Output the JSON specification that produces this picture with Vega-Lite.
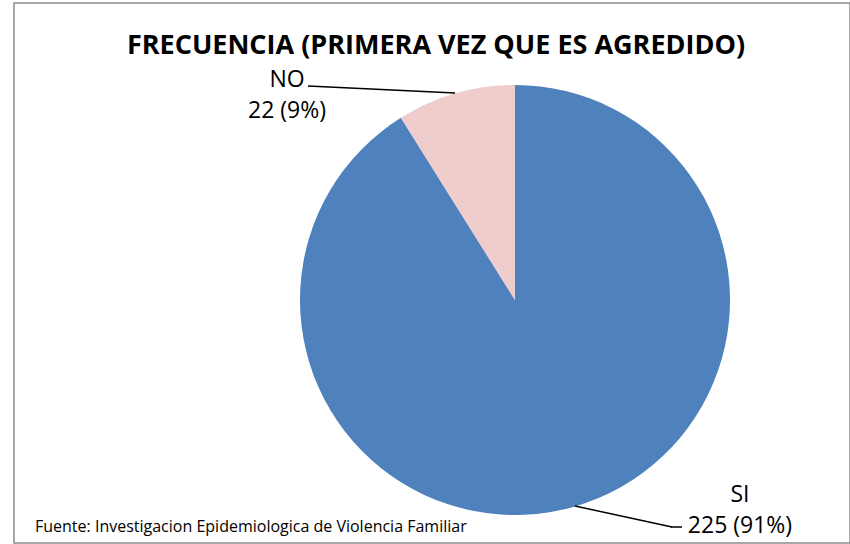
{
  "$schema": "https://vega.github.io/schema/vega-lite/v6.json",
  "width": 836,
  "height": 540,
  "autosize": {"type": "none"},
  "padding": {"left": 14, "top": 3, "right": 0, "bottom": 1},
  "background": "white",
  "config": {
    "view": {"stroke": "#8c8c8c", "strokeWidth": 1.5},
    "font": "Open Sans"
  },
  "data": {
    "values": [
      {"respuesta": "SI", "frecuencia": 225, "porcentaje": 91},
      {"respuesta": "NO", "frecuencia": 22, "porcentaje": 9}
    ]
  },
  "layer": [
    {
      "mark": {"type": "arc", "outerRadius": 215},
      "encoding": {
        "x": {"value": 501},
        "y": {"value": 297},
        "theta": {"field": "frecuencia", "type": "quantitative", "stack": true},
        "color": {
          "field": "respuesta",
          "type": "nominal",
          "scale": {"domain": ["SI", "NO"], "range": ["#4F81BD", "#F0CDCD"]},
          "legend": null
        },
        "order": {"field": "respuesta", "sort": "descending"}
      }
    },
    {
      "transform": [
        {"filter": "datum.respuesta === 'NO'"},
        {"calculate": "[datum.respuesta, datum.frecuencia + ' (' + datum.porcentaje + '%)']", "as": "etiqueta"}
      ],
      "mark": {"type": "text", "font": "Open Sans", "fontSize": 23, "align": "center", "baseline": "alphabetic", "lineHeight": 31, "color": "#000000"},
      "encoding": {
        "text": {"field": "etiqueta"},
        "x": {"value": 273},
        "y": {"value": 84}
      }
    },
    {
      "transform": [
        {"filter": "datum.respuesta === 'SI'"},
        {"calculate": "[datum.respuesta, datum.frecuencia + ' (' + datum.porcentaje + '%)']", "as": "etiqueta"}
      ],
      "mark": {"type": "text", "font": "Open Sans", "fontSize": 23, "align": "center", "baseline": "alphabetic", "lineHeight": 31, "color": "#000000"},
      "encoding": {
        "text": {"field": "etiqueta"},
        "x": {"value": 726},
        "y": {"value": 499}
      }
    },
    {
      "data": {"values": [{}]},
      "mark": {"type": "rule", "color": "#000000", "strokeWidth": 1.5},
      "encoding": {"x": {"value": 294}, "y": {"value": 83}, "x2": {"value": 441}, "y2": {"value": 90}}
    },
    {
      "data": {"values": [{}]},
      "mark": {"type": "rule", "color": "#000000", "strokeWidth": 1.5},
      "encoding": {"x": {"value": 561}, "y": {"value": 503}, "x2": {"value": 658}, "y2": {"value": 524}}
    },
    {
      "data": {"values": [{}]},
      "mark": {"type": "rule", "color": "#000000", "strokeWidth": 1.5},
      "encoding": {"x": {"value": 657}, "y": {"value": 524}, "x2": {"value": 668}, "y2": {"value": 524}}
    },
    {
      "data": {"values": [{"texto": "FRECUENCIA (PRIMERA VEZ QUE ES AGREDIDO)"}]},
      "mark": {"type": "text", "align": "center", "baseline": "alphabetic", "font": "Open Sans", "fontSize": 27, "fontWeight": "bold", "color": "#000000"},
      "encoding": {"text": {"field": "texto"}, "x": {"value": 422}, "y": {"value": 51}}
    },
    {
      "data": {"values": [{"texto": "Fuente: Investigacion Epidemiologica de Violencia Familiar"}]},
      "mark": {"type": "text", "align": "left", "baseline": "alphabetic", "font": "Open Sans", "fontSize": 16, "color": "#000000"},
      "encoding": {"text": {"field": "texto"}, "x": {"value": 21}, "y": {"value": 529}}
    }
  ]
}
